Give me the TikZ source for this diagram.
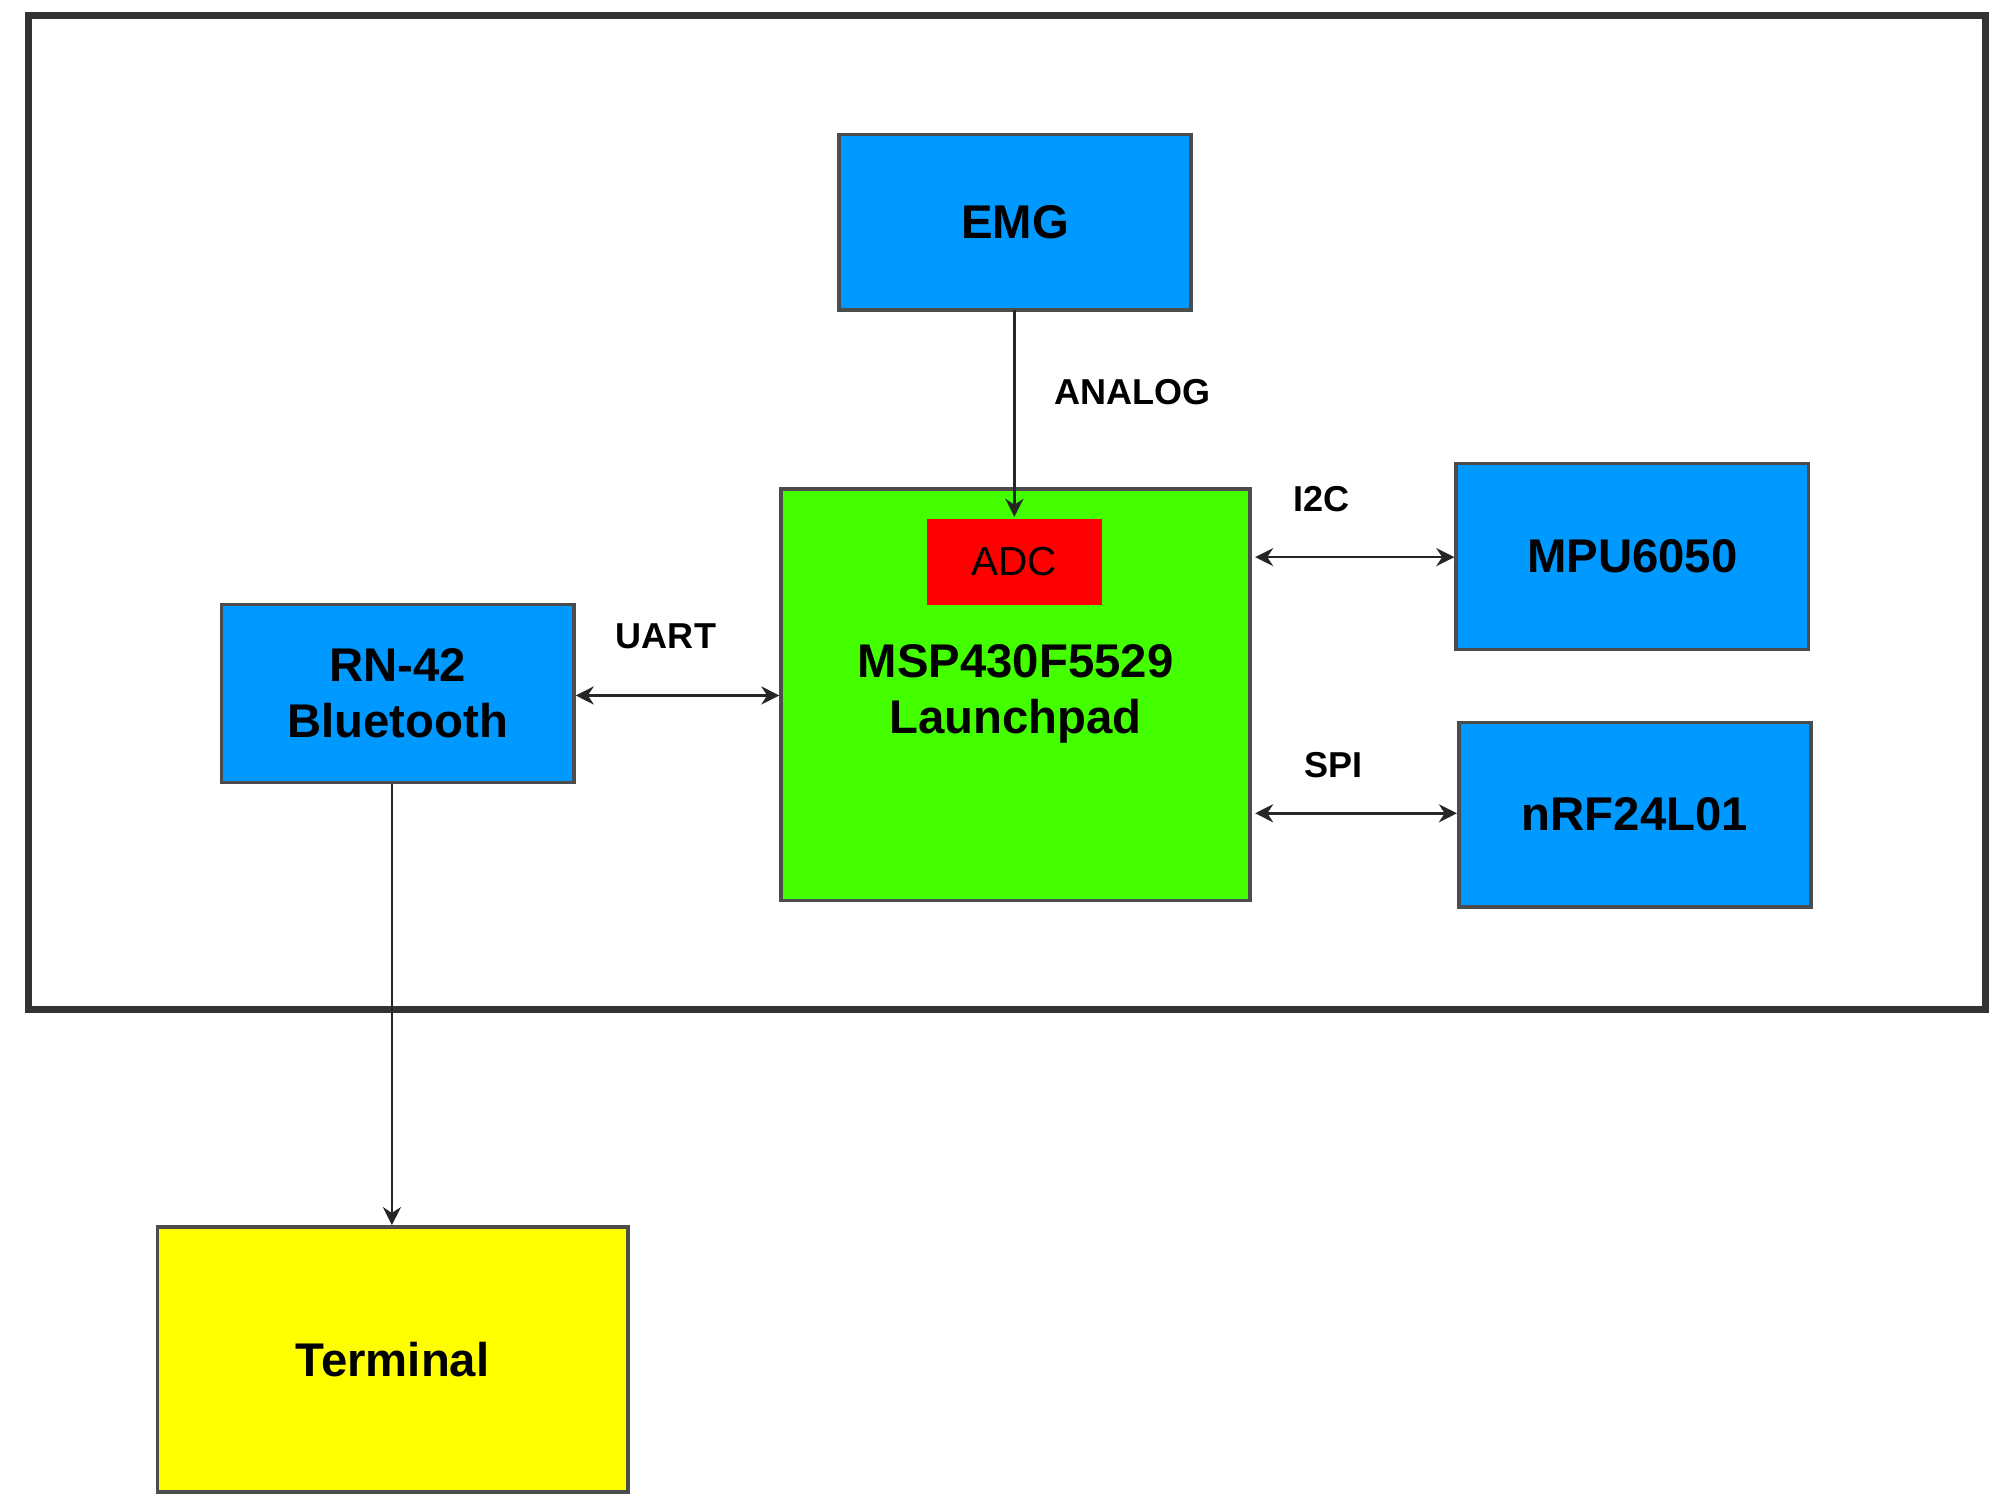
\documentclass[tikz,border=0pt]{standalone}
\usepackage{fontspec}
\setmainfont{Liberation Sans}
\usetikzlibrary{arrows.meta}
\definecolor{bblue}{HTML}{0099FF}
\definecolor{bgreen}{HTML}{44FF00}
\definecolor{bred}{HTML}{FF0000}
\definecolor{byel}{HTML}{FFFF00}
\begin{document}
\begin{tikzpicture}[x=0.01cm,y=-0.01cm,
  box/.style={draw=black!70,line width=0.8pt,inner sep=0pt,align=center,font=\bfseries\fontsize{10.5}{12.5}\selectfont},
  lbl/.style={font=\bfseries\fontsize{8}{9}\selectfont},
  arr/.style={-{Stealth[length=4pt,width=4pt]},line width=0.6pt,black!85},
  barr/.style={{Stealth[length=4pt,width=4pt]}-{Stealth[length=4pt,width=4pt]},line width=0.6pt,black!85}]
\useasboundingbox (0,0) rectangle (1560,1173);
\draw[line width=1.6pt,black!80] (22,12) rectangle (1550,788);
\node[box,fill=bblue,minimum width=2.75cm,minimum height=1.37cm] (emg) at (792.5,173.5) {EMG};
\node[box,fill=bgreen,minimum width=3.66cm,minimum height=3.21cm] (lp) at (793,542.5) {};
\node[box,fill=bred,draw=none,minimum width=1.36cm,minimum height=0.67cm,font=\fontsize{9}{10}\selectfont] (adc) at (792,438.5) {ADC};
\node[box,draw=none] at (793,542) {MSP430F5529\\Launchpad};
\node[box,fill=bblue,minimum width=2.75cm,minimum height=1.45cm] (mpu) at (1274.5,434.5) {MPU6050};
\node[box,fill=bblue,minimum width=2.75cm,minimum height=1.44cm] (nrf) at (1276.5,636) {nRF24L01};
\node[box,fill=bblue,minimum width=2.75cm,minimum height=1.39cm] (rn) at (310.5,541.5) {RN-42\\Bluetooth};
\node[box,fill=byel,minimum width=3.67cm,minimum height=2.07cm] (term) at (306.5,1061.5) {Terminal};
\coordinate (emgb) at (792,242);
\draw[arr] (emgb) -- (adc.north);
\draw[barr] (980,435) -- (mpu.west |- 0,435);
\draw[barr] (980,635) -- (nrf.west |- 0,635);
\draw[barr] (rn.east |- 0,543) -- (lp.west |- 0,543);
\draw[arr] (rn.south -| 306,0) -- (term.north -| 306,0);
\node[lbl] at (884,306) {ANALOG};
\node[lbl] at (1032,390) {I2C};
\node[lbl] at (520,497) {UART};
\node[lbl] at (1041,597) {SPI};
\end{tikzpicture}
\end{document}
